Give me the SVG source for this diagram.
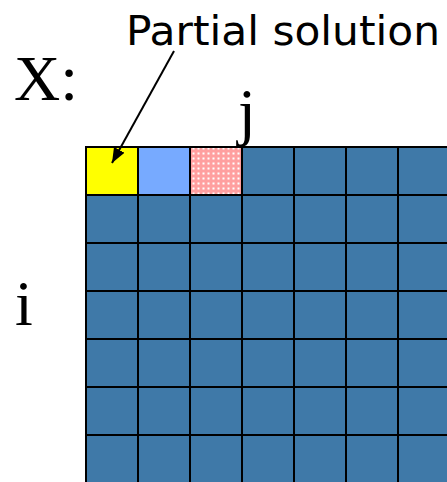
<svg xmlns="http://www.w3.org/2000/svg" width="447" height="482" viewBox="0 0 447 482">
<style>
.cell{fill:#3f79a8;stroke:#000;stroke-width:2}
.serif{font-family:"Liberation Serif","Times New Roman",serif;fill:#000}
.sans{font-family:"DejaVu Sans",Verdana,sans-serif;fill:#000}
</style>
<defs>
<pattern id="dots" width="5" height="5" patternUnits="userSpaceOnUse" x="1" y="1">
<rect width="5" height="5" fill="#ff9f9f"/>
<rect x="1.5" y="1.5" width="2" height="2" fill="#ffffff"/>
</pattern>
<marker id="arr" viewBox="0 0 10 10" refX="10" refY="5" markerWidth="15" markerHeight="15" markerUnits="userSpaceOnUse" orient="auto">
<path d="M0,1 L10,5 L0,9 Z" fill="#000"/>
</marker>
</defs>
<rect width="447" height="482" fill="#fff"/>
<g id="grid">
<rect class="cell" x="86" y="195" width="52" height="48"/><rect class="cell" x="138" y="195" width="52" height="48"/><rect class="cell" x="190" y="195" width="52" height="48"/><rect class="cell" x="242" y="195" width="52" height="48"/><rect class="cell" x="294" y="195" width="52" height="48"/><rect class="cell" x="346" y="195" width="52" height="48"/><rect class="cell" x="398" y="195" width="52" height="48"/>
<rect class="cell" x="86" y="243" width="52" height="48"/><rect class="cell" x="138" y="243" width="52" height="48"/><rect class="cell" x="190" y="243" width="52" height="48"/><rect class="cell" x="242" y="243" width="52" height="48"/><rect class="cell" x="294" y="243" width="52" height="48"/><rect class="cell" x="346" y="243" width="52" height="48"/><rect class="cell" x="398" y="243" width="52" height="48"/>
<rect class="cell" x="86" y="291" width="52" height="48"/><rect class="cell" x="138" y="291" width="52" height="48"/><rect class="cell" x="190" y="291" width="52" height="48"/><rect class="cell" x="242" y="291" width="52" height="48"/><rect class="cell" x="294" y="291" width="52" height="48"/><rect class="cell" x="346" y="291" width="52" height="48"/><rect class="cell" x="398" y="291" width="52" height="48"/>
<rect class="cell" x="86" y="339" width="52" height="48"/><rect class="cell" x="138" y="339" width="52" height="48"/><rect class="cell" x="190" y="339" width="52" height="48"/><rect class="cell" x="242" y="339" width="52" height="48"/><rect class="cell" x="294" y="339" width="52" height="48"/><rect class="cell" x="346" y="339" width="52" height="48"/><rect class="cell" x="398" y="339" width="52" height="48"/>
<rect class="cell" x="86" y="387" width="52" height="48"/><rect class="cell" x="138" y="387" width="52" height="48"/><rect class="cell" x="190" y="387" width="52" height="48"/><rect class="cell" x="242" y="387" width="52" height="48"/><rect class="cell" x="294" y="387" width="52" height="48"/><rect class="cell" x="346" y="387" width="52" height="48"/><rect class="cell" x="398" y="387" width="52" height="48"/>
<rect class="cell" x="86" y="435" width="52" height="50"/><rect class="cell" x="138" y="435" width="52" height="50"/><rect class="cell" x="190" y="435" width="52" height="50"/><rect class="cell" x="242" y="435" width="52" height="50"/><rect class="cell" x="294" y="435" width="52" height="50"/><rect class="cell" x="346" y="435" width="52" height="50"/><rect class="cell" x="398" y="435" width="52" height="50"/>
<rect class="cell" x="242" y="147" width="52" height="48"/><rect class="cell" x="294" y="147" width="52" height="48"/><rect class="cell" x="346" y="147" width="52" height="48"/><rect class="cell" x="398" y="147" width="52" height="48"/>
</g>
<g id="partial-cell"><rect x="86" y="147" width="52" height="48" fill="#ffff00" stroke="#000" stroke-width="2"/></g>
<g id="blue-cell"><rect x="138" y="147" width="52" height="48" fill="#77aaff" stroke="#000" stroke-width="2"/></g>
<g id="dotted-cell"><rect x="190" y="147" width="52" height="48" fill="url(#dots)" stroke="#000" stroke-width="2"/></g>
<g id="labels">
<text class="serif" x="14" y="100" font-size="64">X:</text>
<text class="serif" x="238" y="133" font-size="64">j</text>
<text class="serif" x="15" y="325" font-size="64">i</text>
</g>
<g id="callout"><text class="sans" x="126" y="45" font-size="41" textLength="314" lengthAdjust="spacingAndGlyphs">Partial solution</text></g>
<g id="connectors">
<line x1="174" y1="51" x2="112" y2="163" stroke="#000" stroke-width="2" marker-end="url(#arr)"/>
</g>
</svg>
